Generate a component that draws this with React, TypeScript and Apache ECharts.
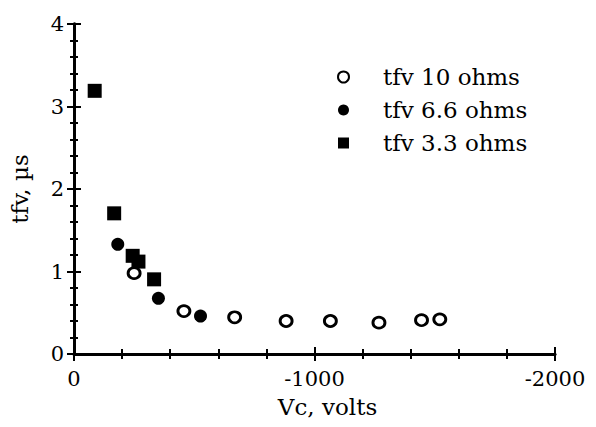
import React, { useEffect, useRef } from "react";
import * as echarts from "echarts";

const seriesNames = ["tfv 10 ohms", "tfv 6.6 ohms", "tfv 3.3 ohms"];
const vc10 = [-250, -457, -668, -882, -1066, -1268, -1445, -1521];
const tfv10 = [0.98, 0.52, 0.445, 0.4, 0.4, 0.38, 0.41, 0.42];
const vc66 = [-182, -351, -526];
const tfv66 = [1.33, 0.675, 0.46];
const vc33 = [-86, -167, -244, -268, -333];
const tfv33 = [3.19, 1.705, 1.19, 1.12, 0.905];
const xTicks = [0, -1000, -2000];
const yTicks = [0, 1, 2, 3, 4];

const FONT = "DejaVu Serif";

function pairs(xs: number[], ys: number[]) {
  return xs.map((x, i) => [x, ys[i]]);
}

export default function App() {
  const ref = useRef<HTMLDivElement>(null);
  useEffect(() => {
    if (!ref.current) return;
    const chart = echarts.init(ref.current, undefined, { renderer: "svg" });
    const axisLine = { show: true, lineStyle: { color: "#000", width: 2.8 } };
    const commonX = {
      type: "value" as const,
      min: Math.min(...xTicks),
      max: Math.max(...xTicks),
      interval: 1000,
      inverse: true,
      splitLine: { show: false },
      axisLine,
      axisTick: { show: true, inside: true, length: 7, lineStyle: { color: "#000", width: 2 } },
      minorTick: { show: true, splitNumber: 5, length: 5, lineStyle: { color: "#000", width: 2 } },
    };
    const commonY = {
      type: "value" as const,
      min: Math.min(...yTicks),
      max: Math.max(...yTicks),
      interval: 1,
      splitLine: { show: false },
      axisLine,
      axisTick: { show: true, inside: true, length: 7, lineStyle: { color: "#000", width: 2 } },
      minorTick: { show: true, splitNumber: 5, length: 4, lineStyle: { color: "#000", width: 2 } },
    };
    chart.setOption({
      animation: false,
      backgroundColor: "#fff",
      textStyle: { fontFamily: FONT },
      grid: { left: 72, right: 41, top: 24, bottom: 73, containLabel: false },
      xAxis: [
        {
          ...commonX,
          position: "bottom",
          name: "Vc, volts",
          nameLocation: "middle",
          nameGap: 41,
          nameTextStyle: { fontFamily: FONT, fontSize: 23, color: "#000", padding: [0, 0, 0, 26] },
          axisLabel: { show: true, margin: 14, fontFamily: FONT, fontSize: 21, color: "#000", formatter: (v: number) => String(v) },
        },
        { ...commonX, position: "top", axisLabel: { show: false } },
      ],
      yAxis: [
        {
          ...commonY,
          position: "left",
          name: "tfv, µs",
          nameLocation: "middle",
          nameGap: 43,
          nameTextStyle: { fontFamily: FONT, fontSize: 23, color: "#000" },
          axisLabel: { show: true, margin: 10, fontFamily: FONT, fontSize: 21, color: "#000", padding: [0, 0, 8, 0] },
        },
        { ...commonY, position: "right", axisLabel: { show: false } },
      ],
      legend: {
        orient: "vertical",
        left: 337,
        top: 65.5,
        padding: 0,
        itemWidth: 11,
        itemHeight: 11,
        itemGap: 10,
        data: [
          { name: seriesNames[0], icon: "circle" },
          { name: seriesNames[1], icon: "circle" },
          { name: seriesNames[2], icon: "rect" },
        ],
        textStyle: { fontFamily: FONT, fontSize: 23, color: "#000", lineHeight: 23, padding: [0, 0, 0, 29] },
      },
      series: [
        {
          name: seriesNames[0],
          type: "scatter",
          symbol: "circle",
          symbolSize: [12, 11],
          itemStyle: { color: "#fff", borderColor: "#000", borderWidth: 2.8, opacity: 1 },
          data: pairs(vc10, tfv10),
        },
        {
          name: seriesNames[1],
          type: "scatter",
          symbol: "circle",
          symbolSize: 13,
          itemStyle: { color: "#000", opacity: 1 },
          data: pairs(vc66, tfv66),
        },
        {
          name: seriesNames[2],
          type: "scatter",
          symbol: "rect",
          symbolSize: 14,
          itemStyle: { color: "#000", opacity: 1 },
          data: pairs(vc33, tfv33),
        },
      ],
    });
    return () => chart.dispose();
  }, []);
  return <div ref={ref} style={{ width: 596, height: 427, position: "absolute", left: 0, top: 0 }} />;
}
